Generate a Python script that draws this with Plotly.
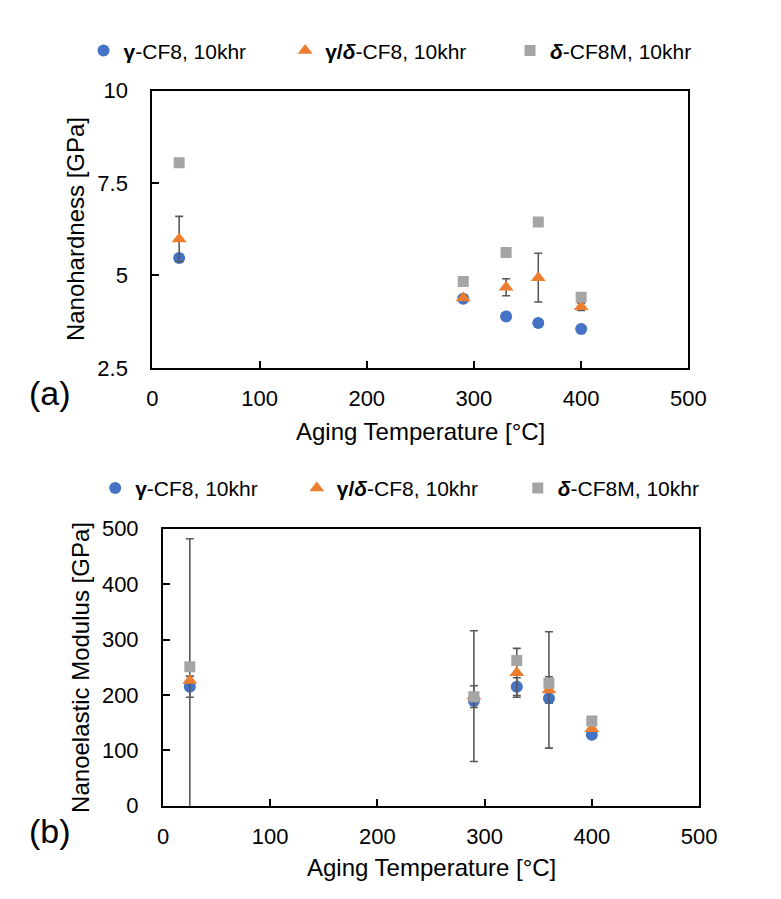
import plotly.graph_objects as go

W, H = 781, 899

# ---------------- data ----------------
temps = [25, 290, 330, 360, 400]

# (a) nanohardness [GPa]
hard_g = [5.47, 4.37, 3.89, 3.71, 3.55]
hard_gd = [5.99, 4.39, 4.68, 4.94, 4.15]
hard_d = [8.05, 4.84, 5.62, 6.45, 4.41]
hard_gd_err = [0.61, 0.05, 0.23, 0.66, 0.10]

# (b) nanoelastic modulus [GPa]
mod_g = [215, 189, 215, 194, 128]
mod_gd = [226, 198, 240, 209, 139]
mod_d = [251, 197, 262, 221, 153]
mod_g_err_plus = [19, 0, 16, 39, 0]
mod_g_err_minus = [19, 0, 16, 9, 0]
mod_gd_err = [256, 118, 44, 105, 0]
mod_d_err = [0, 19.5, 0, 0, 0]

names = ["<b>γ</b>-CF8, 10khr", "<b>γ/<i>δ</i></b>-CF8, 10khr", "<b><i>δ</i></b>-CF8M, 10khr"]
colors = ["#4472C4", "#ED7D31", "#A5A5A5"]
symbols = ["circle", "triangle-up", "square"]
msizes = [12, 13, 11]

FONT = "Liberation Sans, Arial, Helvetica, sans-serif"
ERRC = "#595959"


def px_x(p):
    return p / W


def px_y(p):
    return 1 - p / H


fig = go.Figure()


def add(xs, ys, i, xa, ya, leg, err=None, errm=None):
    e = None
    if err is not None:
        e = dict(type="data", array=err, arrayminus=errm if errm is not None else err,
                 symmetric=errm is None, color=ERRC, thickness=1.6, width=4, visible=True)
    fig.add_trace(go.Scatter(
        x=xs, y=ys, mode="markers", name=names[i],
        marker=dict(symbol=symbols[i], size=msizes[i], color=colors[i], line=dict(width=0)),
        error_y=e, xaxis=xa, yaxis=ya, legend=leg, showlegend=True,
    ))


# panel (a)
add(temps, hard_g, 0, "x", "y", "legend")
add(temps, hard_gd, 1, "x", "y", "legend2", err=hard_gd_err)
add(temps, hard_d, 2, "x", "y", "legend3")
# panel (b)
add(temps, mod_g, 0, "x2", "y2", "legend4", err=mod_g_err_plus, errm=mod_g_err_minus)
add(temps, mod_gd, 1, "x2", "y2", "legend5", err=mod_gd_err)
add(temps, mod_d, 2, "x2", "y2", "legend6", err=mod_d_err)

TICK = 22
axis_common = dict(
    showline=True, linecolor="black", linewidth=2, mirror=True,
    ticks="inside", ticklen=7, tickwidth=1.5, tickcolor="black",
    showgrid=False, zeroline=False,
    tickfont=dict(family=FONT, size=TICK, color="black"),
)

# frame pixel boxes
A = dict(l=151, r=704, t=81, b=366)
B = dict(l=162, r=715, t=531.5, b=816.5)

fig.update_layout(
    width=W, height=H,
    margin=dict(l=0, r=0, t=0, b=0),
    paper_bgcolor="white", plot_bgcolor="white",
    font=dict(family=FONT, color="black"),
    xaxis=dict(domain=[px_x(A["l"]), px_x(A["r"])], range=[0, 500], dtick=100,
               anchor="y", ticklabelstandoff=10, **axis_common),
    yaxis=dict(domain=[px_y(A["b"]), px_y(A["t"])], range=[2.5, 10],
               tickvals=[2.5, 5, 7.5, 10], ticktext=["2.5", "5", "7.5", "10"],
               anchor="x", ticklabelstandoff=18, **axis_common),
    xaxis2=dict(domain=[px_x(B["l"]), px_x(B["r"])], range=[0, 500], dtick=100,
                anchor="y2", ticklabelstandoff=10, **axis_common),
    yaxis2=dict(domain=[px_y(B["b"]), px_y(B["t"])], range=[0, 500], dtick=100,
                anchor="x2", ticklabelstandoff=18, **axis_common),
)

# legends: one per entry for exact placement
leg_pos = [(100, 40), (308, 40), (540, 40), (112, 490), (320, 490), (548, 490)]
leg_keys = ["legend", "legend2", "legend3", "legend4", "legend5", "legend6"]
for k, (cx, cy) in zip(leg_keys, leg_pos):
    fig.update_layout({k: dict(
        x=px_x(cx - 20), y=px_y(cy), xanchor="left", yanchor="middle",
        orientation="h", bgcolor="rgba(0,0,0,0)", borderwidth=0,
        font=dict(family=FONT, size=21, color="black"), itemwidth=30,
    )})

ann = [
    dict(text="Nanohardness [GPa]", x=px_x(71), y=px_y(223.5), textangle=-90, size=24),
    dict(text="Aging Temperature [°C]", x=px_x(427.5), y=px_y(432), textangle=0, size=24),
    dict(text="(a)", x=px_x(45), y=px_y(392), textangle=0, size=34),
    dict(text="Nanoelastic Modulus [GPa]", x=px_x(77), y=px_y(674), textangle=-90, size=24),
    dict(text="Aging Temperature [°C]", x=px_x(438.5), y=px_y(880), textangle=0, size=24),
    dict(text="(b)", x=px_x(45), y=px_y(842), textangle=0, size=34),
]
for a in ann:
    fig.add_annotation(text=a["text"], x=a["x"], y=a["y"], xref="paper", yref="paper",
                       xanchor="center", yanchor="middle", showarrow=False,
                       textangle=a["textangle"],
                       font=dict(family=FONT, size=a["size"], color="black"))

fig.write_html("out.html")
